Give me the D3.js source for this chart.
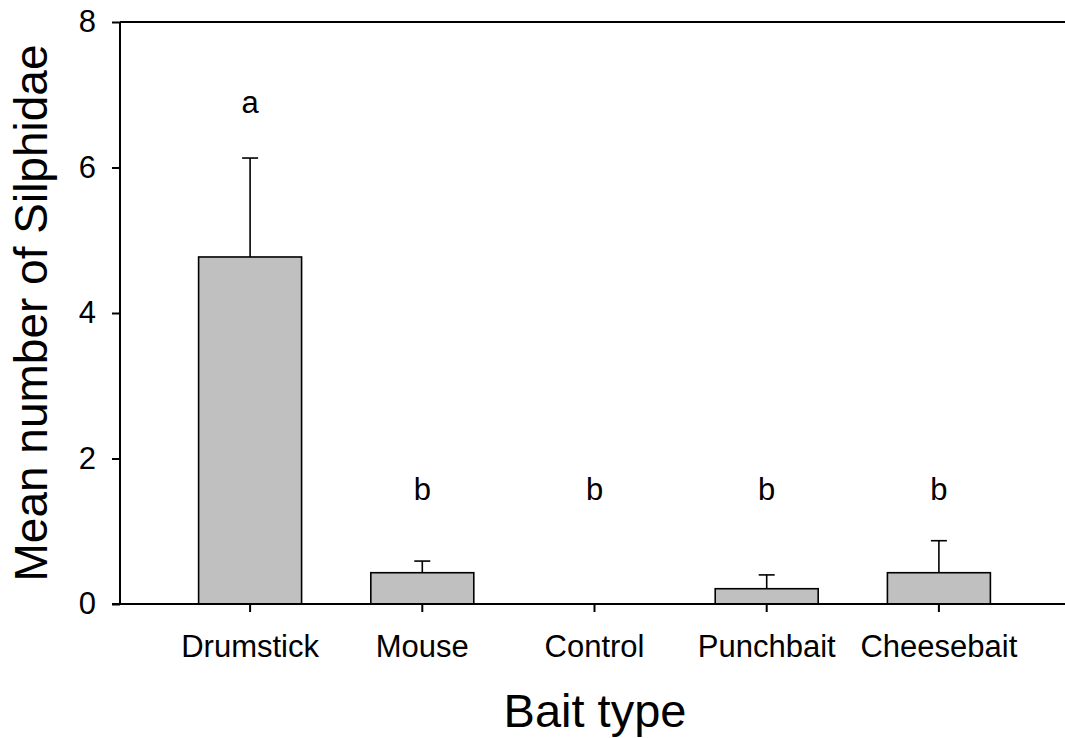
<!DOCTYPE html>
<html>
<head>
<meta charset="utf-8">
<script src="https://cdn.jsdelivr.net/npm/d3@7"></script>
<style>
  html, body { margin: 0; padding: 0; background: #fff; }
  svg { display: block; font-family: Arial, "Liberation Sans", sans-serif; }
</style>
</head>
<body>
<svg id="chart" width="1065" height="738"></svg>
<script>
// Bait types and mean Silphidae counts with upper standard-error whiskers
const baits = ["Drumstick", "Mouse", "Control", "Punchbait", "Cheesebait"];
const means = [4.77, 0.43, 0, 0.21, 0.43];
const errors = [1.36, 0.16, 0, 0.19, 0.44];
const groups = ["a", "b", "b", "b", "b"];
const groupLevels = [6.75, 1.43, 1.43, 1.43, 1.43];
const yTicks = [0, 2, 4, 6, 8];

const svg = d3.select("#chart");
const plotLeft = 120, plotRight = 1065, plotTop = 22, plotBottom = 604;
const tickFont = 31;

const x = d3.scaleBand()
  .domain(baits)
  .range([164, 1025])
  .paddingInner(0.402)
  .paddingOuter(0.201);

const y = d3.scaleLinear().domain([0, 8]).range([plotBottom, plotTop]);

// frame line along the top
svg.append("line")
  .attr("x1", plotLeft).attr("x2", plotRight)
  .attr("y1", plotTop).attr("y2", plotTop)
  .attr("stroke", "#000").attr("stroke-width", 2);

// bars
const rows = baits.map((b, i) => ({ b, m: means[i], e: errors[i], g: groups[i], gl: groupLevels[i] }));
const bars = rows.filter(d => d.m > 0);

svg.append("g").selectAll("rect")
  .data(bars).join("rect")
  .attr("x", d => x(d.b))
  .attr("width", x.bandwidth())
  .attr("y", d => y(d.m))
  .attr("height", d => y(0) - y(d.m))
  .attr("fill", "#c0c0c0")
  .attr("stroke", "#000")
  .attr("stroke-width", 1.6);

// upper error whiskers
const eb = svg.append("g").attr("stroke", "#000").attr("stroke-width", 1.6);
bars.forEach(d => {
  const cx = x(d.b) + x.bandwidth() / 2;
  eb.append("line").attr("x1", cx).attr("x2", cx)
    .attr("y1", y(d.m)).attr("y2", y(d.m + d.e));
  eb.append("line").attr("x1", cx - 8).attr("x2", cx + 8)
    .attr("y1", y(d.m + d.e)).attr("y2", y(d.m + d.e));
});

// significance letters
svg.append("g").selectAll("text")
  .data(rows).join("text")
  .attr("x", d => x(d.b) + x.bandwidth() / 2)
  .attr("y", d => y(d.gl))
  .attr("text-anchor", "middle")
  .attr("font-size", tickFont)
  .attr("fill", "#000")
  .text(d => d.g);

// y axis
const yAxis = svg.append("g")
  .attr("transform", `translate(${plotLeft},0)`)
  .call(d3.axisLeft(y).tickValues(yTicks).tickSize(8).tickPadding(16).tickFormat(d3.format("d")));
yAxis.select(".domain").attr("stroke-width", 2).attr("d", `M0,${plotBottom}V${plotTop}`);
yAxis.selectAll(".tick line").attr("stroke-width", 2);
yAxis.selectAll(".tick text").attr("font-size", tickFont).attr("font-family", "Arial, 'Liberation Sans', sans-serif").attr("fill", "#000");

// x axis
const xAxis = svg.append("g")
  .attr("transform", `translate(0,${plotBottom})`)
  .call(d3.axisBottom(x).tickSize(8).tickPadding(23));
xAxis.select(".domain").attr("stroke-width", 2).attr("d", `M${plotLeft - 8},0H${plotRight}`);
xAxis.selectAll(".tick line").attr("stroke-width", 2);
xAxis.selectAll(".tick text").attr("font-size", tickFont).attr("font-family", "Arial, 'Liberation Sans', sans-serif").attr("fill", "#000");

// axis titles
svg.append("text")
  .attr("x", 595).attr("y", 727)
  .attr("text-anchor", "middle")
  .attr("font-size", 47)
  .text("Bait type");

svg.append("text")
  .attr("transform", `translate(47,${(plotTop + plotBottom) / 2}) rotate(-90)`)
  .attr("text-anchor", "middle")
  .attr("font-size", 46)
  .text("Mean number of Silphidae");
</script>
</body>
</html>
